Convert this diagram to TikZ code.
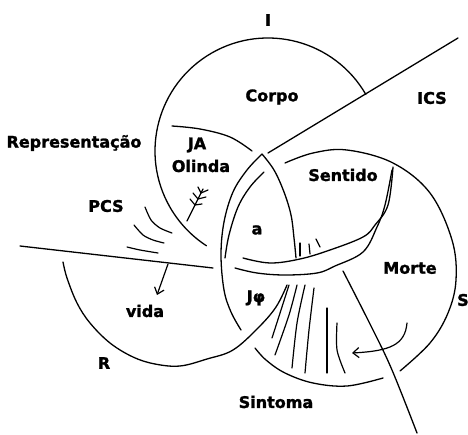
\documentclass[tikz,border=0pt]{standalone}
\usepackage{fontspec}
\setmainfont{DejaVu Sans}
\usetikzlibrary{arrows.meta}
\begin{document}
\begin{tikzpicture}[x=1pt,y=-1pt,
  ring/.style={line width=1.3pt, line cap=round, line join=round},
  hatch/.style={line width=1.2pt, line cap=round},
  lbl/.style={font=\fontsize{16}{18}\selectfont\bfseries\addfontfeatures{FakeBold=1.5}, inner sep=0pt},
  barb/.style={-{Straight Barb[length=6pt,width=10pt]}}]
\path[use as bounding box, fill=white] (0,0) rectangle (468,435);

% ring I (upper circle)
\draw[ring] (268,151) ++(-30:113) arc[start angle=-30, end angle=-237, radius=113];

% ring R: upper piece above JA, then its right flank down from the apex
\draw[ring] plot[smooth, tension=0.6] coordinates {(172,126) (200,129) (230,137) (252,151)};
\draw[ring] plot[smooth, tension=0.6] coordinates {(262,154) (274,170) (284,192) (291,215) (294,238) (296,258)};
% ring R: lower arc
\draw[ring] plot[smooth, tension=0.6] coordinates {(63,262) (67,278) (77,303) (90,323) (110,343) (133,357) (155,364) (180,366) (207,359) (233,350) (258,328) (276,307) (287,285)};

% ring S: top and right side
\draw[ring] plot[smooth, tension=0.6] coordinates {(285,163) (313,153) (347,150) (393,163) (430,193) (452,240) (456,280) (448,313) (430,343) (400,371)};
% ring S: bottom
\draw[ring] plot[smooth, tension=0.6] coordinates {(383,378) (347,386) (313,383) (285,373) (266,360) (255,348)};
% ring S: left flank from the apex (double line)
\draw[ring] plot[smooth, tension=0.6] coordinates {(262,154) (247,170) (233,192) (224,222) (221,255) (224,290) (231,312) (241,330)};
\draw[ring] plot[smooth, tension=0.6] coordinates {(264,172) (250,187) (238,207) (229,235) (225,258)};

% lower edge of the Sentido field (double line)
\draw[ring] plot[smooth, tension=0.6] coordinates {(393,167) (388,205) (375,225) (363,237) (330,250) (300,259) (270,263) (243,258)};
\draw[ring] plot[smooth, tension=0.6] coordinates {(392,170) (385,205) (377,227) (363,252) (335,266) (317,273) (285,275) (257,273) (235,268)};

% straight lines
\coordinate (icsEnd) at (458,38);
\coordinate (apex) at (268,153);
\draw[ring] (icsEnd) -- (apex);
\coordinate (leftEnd) at (20,246);
\coordinate (leftStop) at (213,268);
\draw[ring] (leftEnd) -- (leftStop);
\draw[ring] plot[smooth, tension=0.6] coordinates {(343,271) (372,328) (392,370) (417,433)};

% ripples near PCS
\draw[hatch] plot[smooth] coordinates {(145,207) (151,220) (160,228) (172,233)};
\draw[hatch] plot[smooth] coordinates {(134,225) (143,235) (153,240) (164,243)};
\draw[hatch] plot[smooth] coordinates {(127,247) (140,250) (158,253)};

% sprout
\draw[hatch] (187,221) -- (195,205) -- (203,189);
\draw[hatch] (195,205) -- (190,199) (195,205) -- (202,204)
             (198,199) -- (193,193) (198,199) -- (206,197)
             (201,193) -- (198,187) (201,193) -- (208,190);

% hatching in the a field
\draw[hatch] (300,243) -- (300,256);
\draw[hatch] (309,244) -- (310,254);
\draw[hatch] (316,239) -- (320,247);

% hatching in the Sintoma field
\draw[hatch] plot[smooth] coordinates {(289,285) (281,310) (272,338)};
\draw[hatch] plot[smooth] coordinates {(297,285) (289,315) (275,355)};
\draw[hatch] plot[smooth] coordinates {(305,285) (297,323) (292,368)};
\draw[hatch] plot[smooth] coordinates {(314,288) (309,330) (305,373)};
\draw[hatch] plot[smooth] coordinates {(327,308) (327,373)};
\draw[hatch] plot[smooth] coordinates {(337,323) (337,350) (345,373)};

% labels
\node[lbl] (lI) at (268,20) {I};
\node[lbl] (corpo) at (272,97) {Corpo};
\node[lbl] (ics) at (432,98) {ICS};
\node[lbl] (repr) at (74,143) {Representação};
\node[lbl] (ja) at (197,145) {JA};
\node[lbl] (olinda) at (201,166) {Olinda};
\node[lbl] (pcs) at (106,206) {PCS};
\node[lbl] (sentido) at (343,175) {Sentido};
\node[lbl] (obja) at (257,230) {a};
\node[lbl] (morte) at (410,268) {Morte};
\node[lbl] (lS) at (463,300) {S};
\node[lbl] (jphi) at (256,298) {Jφ};
\node[lbl] (vida) at (145,311) {vida};
\node[lbl] (lR) at (104,363) {R};
\node[lbl] (sintoma) at (276,402) {Sintoma};

% arrows
\coordinate (vidaFrom) at (168,264);
\coordinate (vidaTo) at (157,295);
\draw[hatch, barb] (vidaFrom) -- (vidaTo);
\coordinate (morteFrom) at (407,323);
\coordinate (morteTo) at (352,353);
\draw[hatch, barb] (morteFrom) .. controls (405,345) and (390,351) .. (morteTo);
\end{tikzpicture}
\end{document}
